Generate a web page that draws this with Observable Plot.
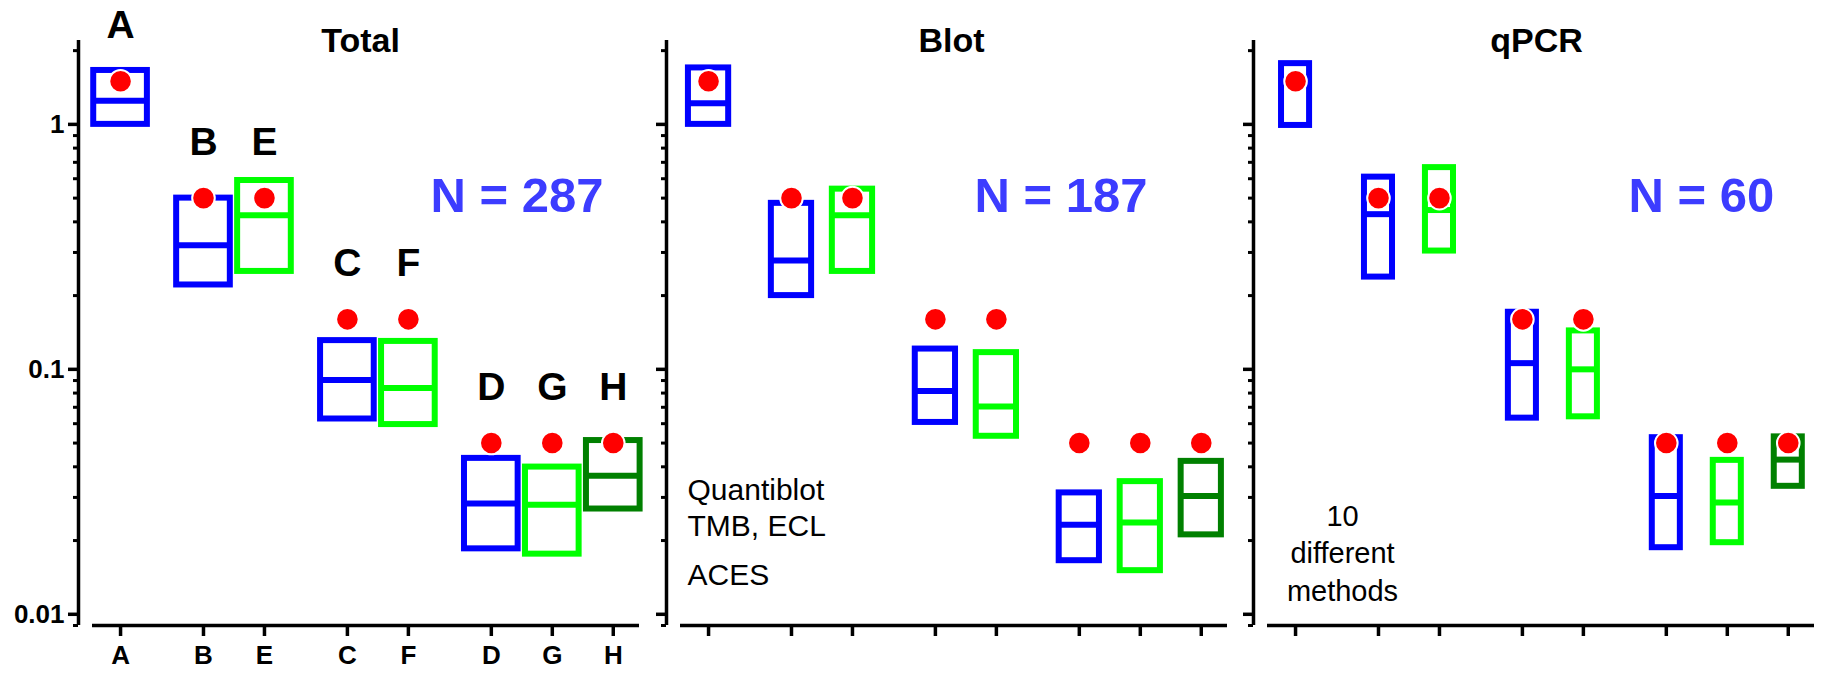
<!DOCTYPE html>
<html><head><meta charset="utf-8">
<script src="https://cdn.jsdelivr.net/npm/d3@7"></script>
<script src="https://cdn.jsdelivr.net/npm/@observablehq/plot@0.6"></script>
<style>
html,body{margin:0;padding:0;background:#fff;}
#chart{position:relative;width:1826px;height:677px;overflow:hidden;background:#fff;}
#chart svg{position:absolute;top:0;}
</style></head><body><div id="chart"></div>
<script>
// ---- data ----
const categories = ["A", "B", "E", "C", "F", "D", "G", "H"];
const cluster    = [0, 1, 1, 2, 2, 3, 3, 3];          // which categories are drawn side by side
const assay      = ["P", "P", "Q", "P", "Q", "P", "Q", "R"];
const reference  = [1.5, 0.5, 0.5, 0.16, 0.16, 0.05, 0.05, 0.05];

const totalQ1  = [1.0, 0.221, 0.251, 0.0627, 0.0595, 0.0185, 0.0176, 0.0269];
const totalMed = [1.25, 0.321, 0.426, 0.0904, 0.084, 0.0283, 0.028, 0.0368];
const totalQ3  = [1.66, 0.50, 0.59, 0.131, 0.130, 0.0433, 0.0399, 0.0512];

const blotQ1  = [1.0, 0.20, 0.251, 0.0607, 0.0533, 0.01655, 0.01507, 0.0211];
const blotMed = [1.22, 0.278, 0.426, 0.0816, 0.0705, 0.0232, 0.0237, 0.0304];
const blotQ3  = [1.70, 0.476, 0.544, 0.121, 0.117, 0.0313, 0.0348, 0.0421];

const qpcrQ1  = [0.99, 0.238, 0.304, 0.0632, 0.064, 0.0187, 0.0196, 0.0333];
const qpcrMed = [1.5, 0.43, 0.447, 0.106, 0.100, 0.0304, 0.0286, 0.0428];
const qpcrQ3  = [1.77, 0.609, 0.666, 0.171, 0.1435, 0.0526, 0.0425, 0.053];

const panelTitles = ["Total", "Blot", "qPCR"];
const panelN = [287, 187, 60];
const blotNote = ["Quantiblot", "TMB, ECL"];
const blotNote2 = "ACES";
const qpcrNote = ["10", "different", "methods"];
const yTickValues = [0.01, 0.1, 1];

// ---- layout ----
const FONT = "'Liberation Sans', Arial, Helvetica, sans-serif";
const GAP = 0.36;
const X0 = -0.46, X1 = 8.51;
const Y0 = 0.009, Y1 = 2.2;
const panelLeft = [0, 588, 1175];
const halfWidth = [0.44, 0.33, 0.23];
const titleDx = [282, 285, 283];
const nDx = [352, 308, 375];
const minorTicks = [];
for (const e of [-3, -2, -1, 0]) for (let m = 2; m <= 9; m++) {
  const v = m * Math.pow(10, e);
  if (v > Y0 && v < Y1) minorTicks.push(+v.toPrecision(3));
}
const positions = categories.map((c, i) => i + GAP * cluster[i]);
const labelOf = new Map(positions.map((p, i) => [p, categories[i]]));

const Q1 = [totalQ1, blotQ1, qpcrQ1];
const MED = [totalMed, blotMed, qpcrMed];
const Q3 = [totalQ3, blotQ3, qpcrQ3];

function panel(k) {
  const rows = categories.map((c, i) => ({
    cat: c, assay: assay[i], pos: positions[i], ref: reference[i],
    q1: Q1[k][i], med: MED[k][i], q3: Q3[k][i]
  }));
  const hw = halfWidth[k];
  const marks = [
    Plot.ruleX([X0], {y1: Y0, y2: Y1, dx: -14, strokeWidth: 3.5, stroke: "black"}),
    Plot.ruleY([Y0], {x1: X0, x2: X1, strokeWidth: 3.5, stroke: "black"}),
    Plot.axisY(minorTicks, {anchor: "left", label: null, tickSize: 5, strokeWidth: 3, tickFormat: () => ""}),
    Plot.axisY(yTickValues, {anchor: "left", label: null, tickSize: 10, tickPadding: 4, strokeWidth: 3.5,
      fontSize: 26, fontWeight: "bold", fill: "black",
      tickFormat: k === 0 ? (d) => String(d) : () => ""}),
    Plot.axisX(positions, {anchor: "bottom", label: null, tickSize: 11, tickPadding: 9, strokeWidth: 3.5,
      fontSize: 26, fontWeight: "bold", fill: "black",
      tickFormat: k === 0 ? (d) => labelOf.get(d) : () => ""}),
    Plot.rect(rows, {x1: (d) => d.pos - hw, x2: (d) => d.pos + hw, y1: "q1", y2: "q3",
      stroke: "assay", strokeWidth: 6, fill: "none"}),
    Plot.ruleY(rows, {y: "med", x1: (d) => d.pos - hw, x2: (d) => d.pos + hw,
      stroke: "assay", strokeWidth: 6}),
    Plot.dot(rows, {x: "pos", y: "ref", r: 11.3, fill: "#ff0000", stroke: "white", strokeWidth: 2}),
    Plot.text([panelTitles[k]], {text: (d) => d, frameAnchor: "top-left", dx: titleDx[k], dy: 11,
      lineAnchor: "bottom", textAnchor: "middle", fontSize: 34, fontWeight: "bold", fill: "black"}),
    Plot.text([`N = ${panelN[k]}`], {text: (d) => d, frameAnchor: "top-left", dx: nDx[k], dy: 171,
      lineAnchor: "bottom", textAnchor: "start", fontSize: 49, fontWeight: "bold", fill: "#3c3cff"})
  ];
  if (k === 0) {
    marks.push(Plot.text(rows, {x: "pos", y: "ref", text: "cat", dy: -43, lineAnchor: "bottom",
      fontSize: 39, fontWeight: "bold", fill: "black"}));
  }
  if (k === 1) {
    marks.push(Plot.text([blotNote.join("\n")], {text: (d) => d, frameAnchor: "top-left", dx: 21, dy: 495,
      lineAnchor: "bottom", textAnchor: "start", lineHeight: 1.2, fontSize: 30, fill: "black"}));
    marks.push(Plot.text([blotNote2], {text: (d) => d, frameAnchor: "top-left", dx: 21, dy: 544,
      lineAnchor: "bottom", textAnchor: "start", fontSize: 30, fill: "black"}));
  }
  if (k === 2) {
    marks.push(Plot.text([qpcrNote.join("\n")], {text: (d) => d, frameAnchor: "top-left", dx: 89, dy: 560,
      lineAnchor: "bottom", textAnchor: "middle", lineHeight: 1.293, fontSize: 29, fill: "black"}));
  }
  const svg = Plot.plot({
    width: 650, height: 677,
    marginLeft: 78, marginRight: 11, marginTop: 40, marginBottom: 52,
    insetLeft: 14,
    x: {domain: [X0, X1], axis: null, label: null},
    y: {type: "log", domain: [Y0, Y1], axis: null, label: null},
    color: {domain: ["P", "Q", "R"], range: ["#0000ff", "#00ff00", "#008000"]},
    style: {background: "transparent", fontFamily: FONT, color: "black", overflow: "visible"},
    marks
  });
  svg.style.left = panelLeft[k] + "px";
  return svg;
}

const root = document.getElementById("chart");
for (let k = 0; k < 3; k++) root.appendChild(panel(k));
</script></body></html>
